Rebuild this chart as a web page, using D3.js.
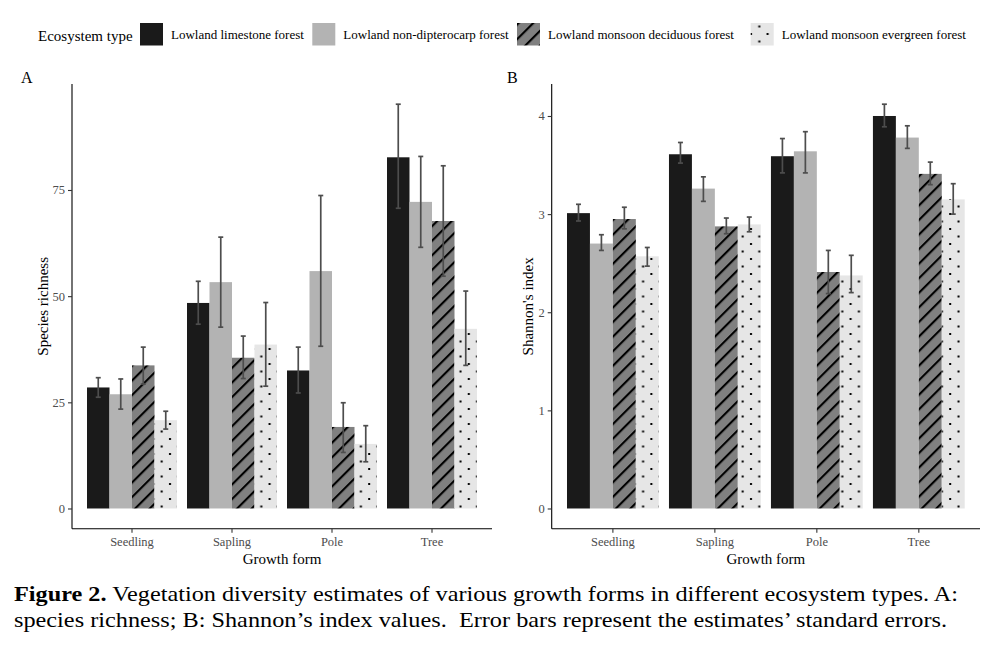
<!DOCTYPE html>
<html><head><meta charset="utf-8">
<script src="https://cdn.jsdelivr.net/npm/d3@7"></script>
<style>
html,body{margin:0;padding:0;background:#fff;}
svg{display:block;font-family:"Liberation Serif","Times New Roman",serif;}
</style></head>
<body>
<svg id="chart" width="992" height="649"></svg>
<script>
// ---------- DATA ----------
const growthForms = ["Seedling", "Sapling", "Pole", "Tree"];
const ecosystems = ["Lowland limestone forest", "Lowland non-dipterocarp forest",
  "Lowland monsoon deciduous forest", "Lowland monsoon evergreen forest"];

// Species richness (panel A): [Seedling, Sapling, Pole, Tree]
const richLimestone   = [28.5, 48.4, 32.5, 82.7];
const richNonDipt     = [26.9, 53.3, 55.9, 72.2];
const richDeciduous   = [33.7, 35.5, 19.2, 67.7];
const richEvergreen   = [20.8, 38.6, 15.2, 42.3];
const richLoLimestone = [26.2, 43.4, 27.2, 70.7];
const richHiLimestone = [30.8, 53.5, 38.0, 95.2];
const richLoNonDipt   = [23.4, 42.7, 38.2, 61.5];
const richHiNonDipt   = [30.5, 63.9, 73.7, 82.9];
const richLoDeciduous = [29.3, 30.6, 13.2, 54.7];
const richHiDeciduous = [38.0, 40.6, 24.9, 80.7];
const richLoEvergreen = [18.7, 28.8, 11.0, 33.7];
const richHiEvergreen = [22.9, 48.5, 19.5, 51.2];

// Shannon's index (panel B)
const shanLimestone   = [3.01, 3.61, 3.59, 4.00];
const shanNonDipt     = [2.70, 3.26, 3.64, 3.78];
const shanDeciduous   = [2.95, 2.875, 2.41, 3.41];
const shanEvergreen   = [2.57, 2.895, 2.375, 3.15];
const shanLoLimestone = [2.93, 3.52, 3.42, 3.89];
const shanHiLimestone = [3.10, 3.73, 3.77, 4.12];
const shanLoNonDipt   = [2.63, 3.13, 3.42, 3.67];
const shanHiNonDipt   = [2.79, 3.38, 3.84, 3.90];
const shanLoDeciduous = [2.85, 2.80, 2.19, 3.30];
const shanHiDeciduous = [3.07, 2.96, 2.63, 3.53];
const shanLoEvergreen = [2.47, 2.82, 2.20, 3.00];
const shanHiEvergreen = [2.66, 2.97, 2.58, 3.31];

const richTicks = [0, 25, 50, 75];
const shanTicks = [0, 1, 2, 3, 4];

// ---------- BUILD ----------
function rows(vals, lo, hi) {
  const out = [];
  growthForms.forEach((g, gi) => {
    ecosystems.forEach((e, ei) => {
      out.push({g, e, ei, v: vals[ei][gi], lo: lo[ei][gi], hi: hi[ei][gi]});
    });
  });
  return out;
}
const dataA = rows([richLimestone, richNonDipt, richDeciduous, richEvergreen],
  [richLoLimestone, richLoNonDipt, richLoDeciduous, richLoEvergreen],
  [richHiLimestone, richHiNonDipt, richHiDeciduous, richHiEvergreen]);
const dataB = rows([shanLimestone, shanNonDipt, shanDeciduous, shanEvergreen],
  [shanLoLimestone, shanLoNonDipt, shanLoDeciduous, shanLoEvergreen],
  [shanHiLimestone, shanHiNonDipt, shanHiDeciduous, shanHiEvergreen]);

const svg = d3.select("#chart");
const defs = svg.append("defs");

// hatch pattern
const hatch = defs.append("pattern").attr("id", "hatch")
  .attr("patternUnits", "userSpaceOnUse").attr("width", 10.3).attr("height", 10.3)
  .attr("patternTransform", "rotate(45)");
hatch.append("rect").attr("width", 10.3).attr("height", 10.3).attr("fill", "#808080");
hatch.append("line").attr("x1", 2).attr("x2", 2).attr("y1", 0).attr("y2", 10.3)
  .attr("stroke", "#000").attr("stroke-width", 2.1);

// dot pattern
const dots = defs.append("pattern").attr("id", "dots")
  .attr("patternUnits", "userSpaceOnUse").attr("width", 16.6).attr("height", 15);
dots.append("rect").attr("width", 16.6).attr("height", 15).attr("fill", "#e6e6e6");
dots.append("rect").attr("x", 3).attr("y", 3).attr("width", 2).attr("height", 2).attr("fill", "#000");
dots.append("rect").attr("x", 11.3).attr("y", 10.5).attr("width", 2).attr("height", 2).attr("fill", "#000");

const fills = ["#1a1a1a", "#b3b3b3", "url(#hatch)", "url(#dots)"];

function panel(data, ticks, cfg) {
  const g = svg.append("g");
  const maxV = d3.max(data, d => d.hi);
  const y = d3.scaleLinear().domain([-0.05 * maxV, 1.05 * maxV]).range([cfg.bottom, cfg.top]);
  const x = d3.scaleBand().domain(growthForms).range([cfg.left, cfg.right])
    .paddingInner(0.1).paddingOuter(0.15);
  const xi = d3.scaleBand().domain(d3.range(ecosystems.length)).range([0, x.bandwidth()]);

  g.selectAll("rect.bar").data(data).join("rect").attr("class", "bar")
    .attr("x", d => x(d.g) + xi(d.ei))
    .attr("width", xi.bandwidth())
    .attr("y", d => y(d.v))
    .attr("height", d => y(0) - y(d.v))
    .attr("fill", d => fills[d.ei]);

  const eb = g.selectAll("g.err").data(data).join("g").attr("class", "err")
    .attr("stroke", "#4d4d4d").attr("stroke-width", 1.7);
  const cx = d => x(d.g) + xi(d.ei) + xi.bandwidth() / 2;
  eb.append("line").attr("x1", cx).attr("x2", cx).attr("y1", d => y(d.lo)).attr("y2", d => y(d.hi));
  eb.append("line").attr("x1", d => cx(d) - 2.5).attr("x2", d => cx(d) + 2.5).attr("y1", d => y(d.lo)).attr("y2", d => y(d.lo));
  eb.append("line").attr("x1", d => cx(d) - 2.5).attr("x2", d => cx(d) + 2.5).attr("y1", d => y(d.hi)).attr("y2", d => y(d.hi));

  // axes
  const yAx = g.append("g").attr("transform", `translate(${cfg.left},0)`)
    .call(d3.axisLeft(y).tickValues(ticks).tickSize(4).tickPadding(3).tickFormat(d3.format("d")));
  yAx.select(".domain").attr("d", `M0,${cfg.top}V${cfg.bottom}`).attr("stroke", "#000").attr("stroke-width", 1.1);
  yAx.selectAll(".tick line").attr("stroke", "#333").attr("stroke-width", 1.1);
  yAx.selectAll(".tick text").attr("fill", "#4d4d4d").style("font-size", "12.5px")
    .style("font-family", "'Liberation Serif','Times New Roman',serif");

  const xAx = g.append("g").attr("transform", `translate(0,${cfg.bottom})`)
    .call(d3.axisBottom(x).tickSize(4).tickPadding(4));
  xAx.select(".domain").attr("d", `M${cfg.left},0H${cfg.right}`).attr("stroke", "#000").attr("stroke-width", 1.1);
  xAx.selectAll(".tick line").attr("stroke", "#333").attr("stroke-width", 1.1);
  xAx.selectAll(".tick text").attr("fill", "#4d4d4d").style("font-size", "12.5px")
    .style("font-family", "'Liberation Serif','Times New Roman',serif");

  g.append("text").attr("x", (cfg.left + cfg.right) / 2).attr("y", 564)
    .attr("text-anchor", "middle").style("font-size", "15px").text("Growth form");
  g.append("text").attr("transform", `translate(${cfg.ytx},${(cfg.top + cfg.bottom) / 2}) rotate(-90)`)
    .attr("text-anchor", "middle").style("font-size", "15px").text(cfg.ylab);
  g.append("text").attr("x", cfg.tagx).attr("y", 83).style("font-size", "16px").text(cfg.tag);
}

panel(dataA, richTicks, {left: 72, right: 492, top: 84, bottom: 528.7, ylab: "Species richness", ytx: 48, tag: "A", tagx: 21});
panel(dataB, shanTicks, {left: 551.7, right: 980, top: 84, bottom: 528.7, ylab: "Shannon's index", ytx: 532.5, tag: "B", tagx: 507});

// legend
const leg = svg.append("g");
leg.append("text").attr("x", 38).attr("y", 41).style("font-size", "15px").text("Ecosystem type");
const keyX = [140, 312.3, 517, 750.7];
ecosystems.forEach((e, i) => {
  leg.append("rect").attr("x", keyX[i]).attr("y", 23).attr("width", 23).attr("height", 22.5).attr("fill", fills[i]);
  leg.append("text").attr("x", keyX[i] + 31).attr("y", 38.5).style("font-size", "13px").text(e);
});

// caption
const cap = svg.append("g").style("font-size", "21px").attr("fill", "#000");
const l1 = cap.append("text").attr("x", 14).attr("y", 601).attr("textLength", 944).attr("lengthAdjust", "spacingAndGlyphs");
l1.append("tspan").style("font-weight", "bold").text("Figure 2.");
l1.append("tspan").text(" Vegetation diversity estimates of various growth forms in different ecosystem types. A:");
cap.append("text").attr("x", 14).attr("y", 627).attr("textLength", 933).attr("lengthAdjust", "spacingAndGlyphs")
  .text("species richness; B: Shannon\u2019s index values.  Error bars represent the estimates\u2019 standard errors.")
  .attr("xml:space", "preserve").style("white-space", "pre");
</script>
</body></html>
